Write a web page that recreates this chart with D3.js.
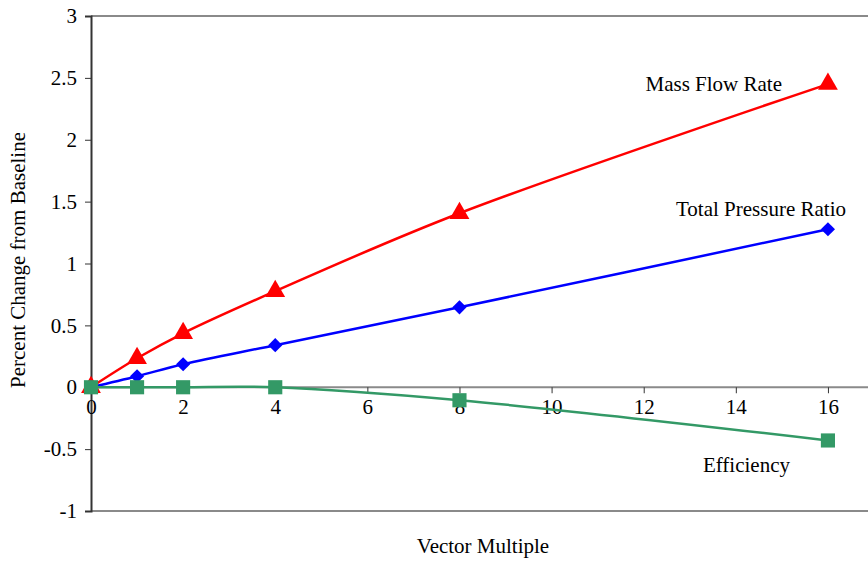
<!DOCTYPE html>
<html><head><meta charset="utf-8">
<script src="https://cdn.jsdelivr.net/npm/d3@7"></script>
<style>body{margin:0;background:#fff;overflow:hidden}svg{display:block}</style>
</head><body><svg id="c" width="868" height="561"></svg>
<script>
const xValues = [0, 1, 2, 4, 8, 16];
const massFlow = [0, 0.234, 0.436, 0.776, 1.406, 2.45];
const pressureRatio = [0, 0.089, 0.186, 0.34, 0.646, 1.277];
const efficiency = [0, 0, 0, 0, -0.105, -0.43];
const xTicks = [0, 2, 4, 6, 8, 10, 12, 14, 16];
const yTicks = [-1, -0.5, 0, 0.5, 1, 1.5, 2, 2.5, 3];
const seriesNames = ["Mass Flow Rate", "Total Pressure Ratio", "Efficiency"];

const svg = d3.select("#c");
const x = d3.scaleLinear().domain([0, 17]).range([91, 874]);
const y = d3.scaleLinear().domain([-1, 3]).range([511, 16]);
const fs = 21;
const FF = "Liberation Serif";

svg.append("line").attr("x1", 91).attr("x2", 874).attr("y1", y(3)).attr("y2", y(3)).attr("stroke", "#8a8a8a").attr("stroke-width", 2);
svg.append("line").attr("x1", 91).attr("x2", 874).attr("y1", y(-1)).attr("y2", y(-1)).attr("stroke", "#8a8a8a").attr("stroke-width", 2);

const yAxis = d3.axisLeft(y).tickValues(yTicks).tickSize(6).tickPadding(8).tickFormat(d => String(d));
const gy = svg.append("g").attr("transform", "translate(91,0)").call(yAxis).attr("font-family", FF).attr("font-size", fs);
gy.select(".domain").attr("stroke", "#333").attr("stroke-width", 2);
gy.selectAll(".tick line").attr("stroke", "#333");
gy.selectAll("text").attr("fill", "#000");

const xAxis = d3.axisBottom(x).tickValues(xTicks).tickSize(6).tickPadding(6).tickFormat(d => String(d));
const gx = svg.append("g").attr("transform", `translate(0,${y(0)})`).call(xAxis).attr("font-family", FF).attr("font-size", fs);
gx.select(".domain").attr("stroke", "#8a8a8a").attr("stroke-width", 2).attr("d", `M91,0H874`);
gx.selectAll(".tick line").attr("stroke", "#333");
gx.selectAll("text").attr("fill", "#000");

svg.append("text").attr("x", 483).attr("y", 553).attr("text-anchor", "middle").attr("font-size", fs).attr("font-family", FF).text("Vector Multiple");
svg.append("clipPath").attr("id", "ylc").append("rect").attr("x", 0).attr("y", 133).attr("width", 60).attr("height", 300);
svg.append("g").attr("clip-path", "url(#ylc)")
  .append("text")
  .attr("transform", "translate(25,388) rotate(-90)")
  .attr("text-anchor", "start").attr("font-size", fs).attr("font-family", FF).text("Percent Change from Baseline");

const line = d3.line().x(d => x(d[0])).y(d => y(d[1])).curve(d3.curveCatmullRom.alpha(0.5));
const diamond = {draw(ctx, size) { const r = Math.sqrt(size) / 2 * Math.SQRT2; ctx.moveTo(0, -r); ctx.lineTo(r, 0); ctx.lineTo(0, r); ctx.lineTo(-r, 0); ctx.closePath(); }};
const series = [
  {vals: massFlow, color: "#ff0000", shape: d3.symbolTriangle, size: 170},
  {vals: pressureRatio, color: "#0000ff", shape: diamond, size: 100},
  {vals: efficiency, color: "#339966", shape: d3.symbolSquare, size: 200}
];
series.forEach(s => {
  const pts = xValues.map((xv, i) => [xv, s.vals[i]]);
  svg.append("path").attr("d", line(pts)).attr("fill", "none").attr("stroke", s.color).attr("stroke-width", 2.5);
});
series.forEach(s => {
  const pts = xValues.map((xv, i) => [xv, s.vals[i]]);
  svg.append("g").selectAll("path").data(pts).join("path")
    .attr("transform", d => `translate(${x(d[0])},${y(d[1])})`)
    .attr("d", d3.symbol().type(s.shape).size(s.size))
    .attr("fill", s.color);
});

svg.append("text").attr("x", 782).attr("y", 91).attr("text-anchor", "end").attr("font-size", fs).attr("font-family", FF).text(seriesNames[0]);
svg.append("text").attr("x", 846).attr("y", 216).attr("text-anchor", "end").attr("font-size", fs).attr("font-family", FF).text(seriesNames[1]);
svg.append("text").attr("x", 790).attr("y", 472).attr("text-anchor", "end").attr("font-size", fs).attr("font-family", FF).text(seriesNames[2]);
</script></body></html>
